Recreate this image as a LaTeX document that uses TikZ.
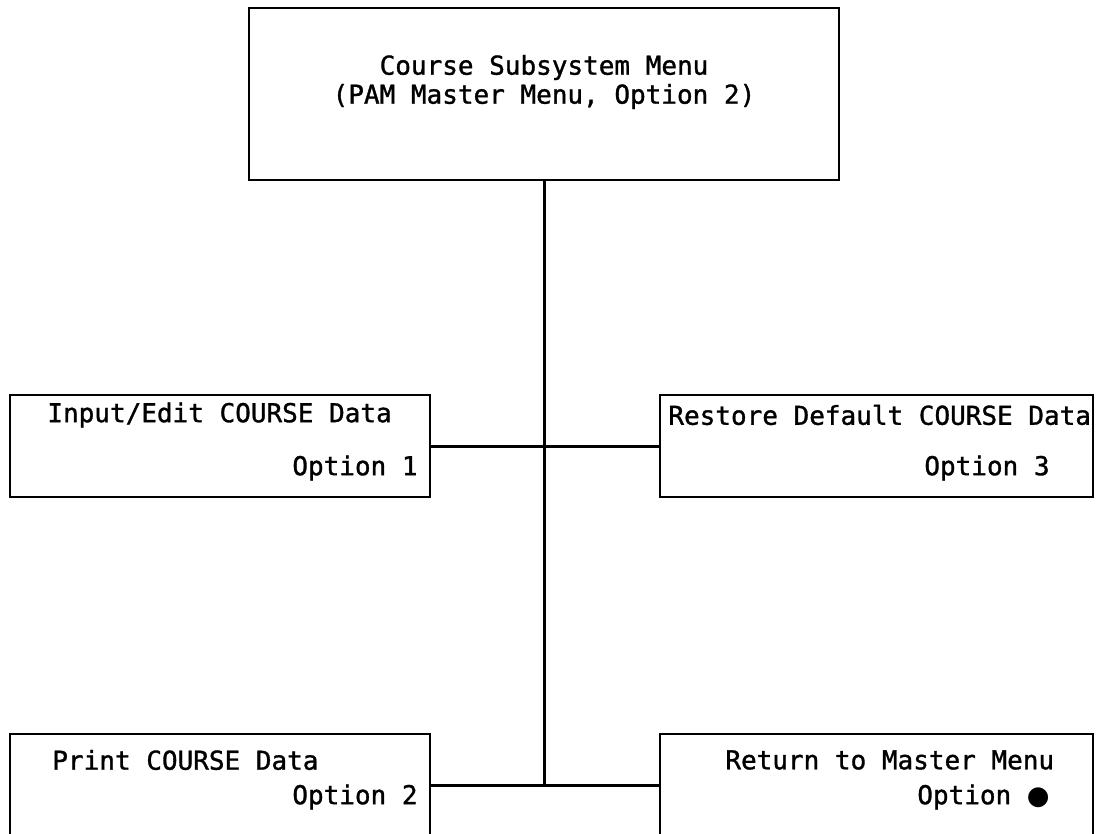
\documentclass[tikz,border=0pt]{standalone}
\usepackage{fontspec}
\newfontfamily\menufont[FakeBold=1.2]{DejaVu Sans Mono}
\newfontfamily\symbfont{DejaVu Sans}
\usepackage{tikz}
\usetikzlibrary{positioning, calc}

\begin{document}
\begin{tikzpicture}[x=0.5pt, y=-0.5pt,
            box/.style={rectangle, draw, line width=1.3pt, minimum width=210pt, minimum height=51pt, inner sep=0},
            conn/.style={line width=1.5pt},
            lbl/.style={font=\menufont\fontsize{13}{14.5}\selectfont, inner sep=0}]
            \useasboundingbox (0,0) rectangle (1102,834);
            \clip (0,0) rectangle (1102,834);

            % Course subsystem menu
            \node[box, minimum width=295pt, minimum height=86pt] (menu) at (544, 94) {};
            \node[lbl, align=center] (menuTxt) at (544, 82) {Course Subsystem Menu\\(PAM Master Menu, Option 2)};

            % Options 1 and 3
            \node[box] (inp) at (220, 446) {};
            \node[box, minimum width=216.5pt] (rst) at (876.5, 446) {};
            \node[lbl, anchor=west] (inpTxt) at (47, 415) {Input/Edit COURSE Data};
            \node[lbl, anchor=east] (inpOpt) at (418, 468) {Option 1};
            \node[lbl, anchor=west] (rstTxt) at (668, 415) {Restore Default COURSE Data};
            \node[lbl, anchor=east] (rstOpt) at (1050, 468) {Option 3};

            % Options 2 and return
            \node[box] (prt) at (220, 785) {};
            \node[box, minimum width=216.5pt] (ret) at (876.5, 785) {};
            \node[lbl, anchor=west] (prtTxt) at (52, 760) {Print COURSE Data};
            \node[lbl, anchor=east] (prtOpt) at (418, 797) {Option 2};
            \node[lbl, anchor=west] (retTxt) at (725, 760) {Return to Master Menu};
            \node[lbl, anchor=east] (retOpt) at (1050, 797) {Option {\symbfont●}};

            % connectors
            \draw[conn] (menu.south) -- (menu.south |- prt.east);
            \draw[conn] (inp.east) -- (rst.west);
            \draw[conn] (prt.east) -- (ret.west);
        \end{tikzpicture}
\end{document}
